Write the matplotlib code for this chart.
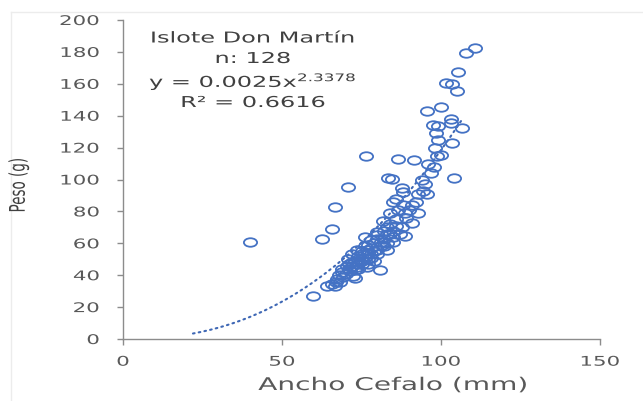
import numpy as np
import matplotlib
matplotlib.use("Agg")
import matplotlib.pyplot as plt
from matplotlib.path import Path
from matplotlib.transforms import Affine2D
from matplotlib.patheffects import AbstractPathEffect
from matplotlib.lines import Line2D

# ---------------- data ----------------
ancho_cefalo = [
    40, 59.7, 62.6, 65.7, 66.7, 70.8, 76.4, 64, 66.7, 65.7,
    68.2, 67.3, 69.2, 72.3, 69, 71.4, 80.8, 70.4, 73.6, 76.7,
    75, 72, 70.8, 74, 77, 72, 75, 78, 73.6, 76.7,
    80, 83, 77, 81.4, 85, 80, 76, 88.7, 84, 80,
    83, 87.7, 81.8, 86, 91, 84, 88.7, 92.8, 86.5, 85,
    88, 91, 87.7, 88, 94.3, 95.6, 92.8, 83.3, 84.6, 86.5,
    91.5, 98.7, 100, 103.5, 97.8, 97, 104, 95.6, 100, 103,
    103, 97.5, 99, 98.4, 106.6, 101.6, 103.5, 105, 105.3, 108,
    110.7, 68, 70, 71, 73, 72, 74, 73, 75, 76,
    74, 77, 78, 79, 75, 76, 78, 79, 81, 78,
    82, 80, 83, 82, 85, 84, 86, 83, 74, 71,
    69, 77, 79, 80, 82, 85, 87, 89, 90, 92,
    95, 98, 99, 96, 94, 73, 67, 86,
]
peso = [
    61, 27, 62.5, 69, 83, 95, 115, 33, 33, 34.4,
    35.6, 37.5, 39, 39.6, 42, 42.5, 43, 45.6, 45, 45,
    47, 48, 50, 50, 50, 53, 53, 53, 56, 56,
    56, 56, 59, 59, 61, 62.5, 64, 64.4, 65.6, 67,
    70, 70, 74, 75, 73, 79, 79, 79, 81, 86,
    84, 84, 94.4, 92, 92.5, 90.6, 90.6, 101, 100.6, 113,
    112.5, 115, 115.6, 123, 108, 104, 101, 143, 145.6, 138,
    135.6, 134, 133.7, 129, 132, 160.6, 160, 155.6, 167.5, 179,
    182.5, 40, 41, 44, 43, 46, 47, 49, 49, 51,
    52, 54, 51, 55, 55, 58, 57, 60, 61, 62,
    63, 65, 66, 68, 68, 72, 71, 60, 44, 47,
    44, 47, 49, 53, 58, 64, 66, 76, 81, 86,
    97, 120, 125, 110, 100, 38, 36, 88,
]
trend_coef = 0.0025
trend_exp = 2.3378
trend_range = (22, 107)
x_ticks = [0, 50, 100, 150]
y_ticks = [0, 20, 40, 60, 80, 100, 120, 140, 160, 180, 200]
title_lines = ["Islote Don Martín", "n: 128",
               "y = 0.0025x$^{2.3378}$", "R² = 0.6616"]
x_label = "Ancho Cefalo (mm)"
y_label = "Peso (g)"

# ---------------- styling helpers ----------------
plt.rcParams['font.family'] = ['DejaVu Sans']
plt.rcParams['mathtext.default'] = 'regular'

STRETCH = 1.6


class Stretch(AbstractPathEffect):
    """Stretch text horizontally about an anchor (mimics the wide source)."""
    def __init__(self, sx=STRETCH, anchor='center'):
        super().__init__()
        self.sx = sx
        self.anchor = anchor

    def draw_path(self, renderer, gc, tpath, affine, rgbFace=None):
        bb = tpath.get_extents(affine)
        if self.anchor == 'right':
            cx = bb.x1
        elif self.anchor == 'left':
            cx = bb.x0
        else:
            cx = 0.5 * (bb.x0 + bb.x1)
        a = affine + Affine2D().translate(-cx, 0).scale(self.sx, 1).translate(cx, 0)
        renderer.draw_path(gc, tpath, a, rgbFace)


W, H = 643, 401
fig = plt.figure(figsize=(W / 100, H / 100), dpi=100)
fig.patch.set_facecolor('white')

# faint chart-area border
fig.add_artist(Line2D([11 / W, 11 / W], [0, 1 - 12 / H], transform=fig.transFigure,
                      color='#ECECEC', lw=1))
fig.add_artist(Line2D([11 / W, 1], [1 - 12 / H, 1 - 12 / H], transform=fig.transFigure,
                      color='#ECECEC', lw=1))

x0, x1 = 123, 600
y_top, y_bot = 20, 339
ax = fig.add_axes([x0 / W, (H - y_bot) / H, (x1 - x0) / W, (y_bot - y_top) / H])
ax.set_xlim(0, 150)
ax.set_ylim(0, 200)

blue = '#4472C4'
ellipse = Path.unit_circle().transformed(Affine2D().scale(1, 1 / 1.55))

# trendline
xt = np.linspace(trend_range[0], trend_range[1], 200)
ax.plot(xt, trend_coef * xt ** trend_exp, color='#3F68B5', lw=1.5,
        linestyle=(0, (0.8, 2.0)), dash_capstyle='round', zorder=2)

ax.plot(ancho_cefalo, peso, ls='none', marker=ellipse, markersize=9.5,
        markerfacecolor='none', markeredgecolor=blue, markeredgewidth=1.3,
        zorder=3, clip_on=False)

for s in ['top', 'right']:
    ax.spines[s].set_visible(False)
for s in ['left', 'bottom']:
    ax.spines[s].set_color('#8C8C8C')
    ax.spines[s].set_linewidth(1.0)

ax.set_xticks(x_ticks)
ax.set_yticks(y_ticks)
ax.tick_params(axis='both', direction='out', length=4, width=1, color='#8C8C8C',
               labelcolor='#595959', labelsize=9.6)
ax.tick_params(axis='y', pad=13)
ax.tick_params(axis='x', pad=8)

for t in ax.yaxis.get_major_ticks():
    t.label1.set_path_effects([Stretch(STRETCH, 'right')])
for t in ax.xaxis.get_major_ticks():
    t.label1.set_path_effects([Stretch(STRETCH, 'center')])

# axis labels
fig.text(393 / W, 1 - 390 / H, x_label, ha='center', va='baseline', fontsize=12.6,
         color='#595959', path_effects=[Stretch(STRETCH)])
fig.text(19 / W, 1 - 185 / H, y_label, ha='center', va='center', rotation=90,
         fontsize=9.7, color='#404040', path_effects=[Stretch(STRETCH)])

# annotation block
baselines = [42.5, 63, 87, 107]
for txt, yb in zip(title_lines, baselines):
    fig.text(253 / W, 1 - yb / H, txt, ha='center', va='baseline', fontsize=10.8,
             color='#404040', path_effects=[Stretch(STRETCH)])

fig.savefig('out.png', dpi=100, facecolor='white')
